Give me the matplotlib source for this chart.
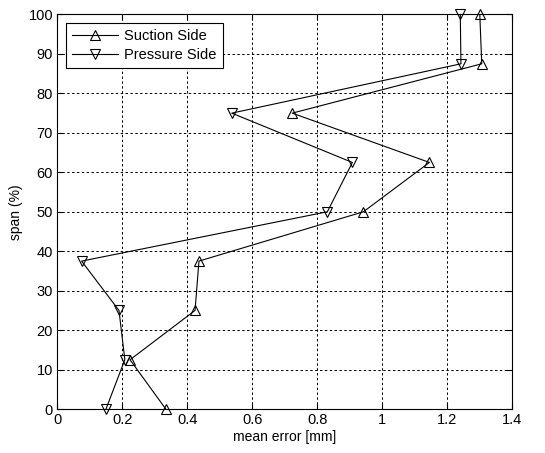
import matplotlib
matplotlib.use("Agg")
import matplotlib.pyplot as plt

plt.rcParams['font.family'] = ['Liberation Sans Narrow', 'Liberation Sans', 'DejaVu Sans']

# span positions (%)
span = [0, 12.5, 25, 37.5, 50, 62.5, 75, 87.5, 100]
# mean error [mm]
suction = [0.334, 0.224, 0.424, 0.436, 0.942, 1.145, 0.723, 1.306, 1.300]
pressure = [0.150, 0.208, 0.190, 0.075, 0.831, 0.908, 0.537, 1.242, 1.240]

xticks = [0, 0.2, 0.4, 0.6, 0.8, 1, 1.2, 1.4]
xticklabels = ['0', '0.2', '0.4', '0.6', '0.8', '1', '1.2', '1.4']
yticks = [0, 10, 20, 30, 40, 50, 60, 70, 80, 90, 100]

fig = plt.figure(figsize=(5.45, 4.53), dpi=100)
ax = fig.add_axes([0.105, 0.097, 0.835, 0.871])

style = dict(color='black', lw=0.8, markersize=7, markerfacecolor='none',
             markeredgecolor='black', markeredgewidth=0.8, clip_on=False, zorder=3)
ax.plot(suction, span, marker='^', label='Suction Side', **style)
ax.plot(pressure, span, marker='v', label='Pressure Side', **style)

ax.set_xlim(0, 1.4)
ax.set_ylim(0, 100)
ax.set_xticks(xticks)
ax.set_xticklabels(xticklabels)
ax.set_yticks(yticks)
ax.tick_params(direction='in', top=True, right=True, labelsize=10.5, length=4, width=0.8, pad=3)
ax.grid(True, color='black', linestyle=(0, (2.5, 2.5)), linewidth=0.7)
ax.set_axisbelow(True)
for s in ax.spines.values():
    s.set_linewidth(0.8)

ax.set_xlabel('mean error [mm]', fontsize=10, labelpad=2)
ax.set_ylabel('span (%)', fontsize=10, labelpad=4)

leg = ax.legend(loc='upper left', fontsize=10.5, fancybox=False, framealpha=1,
                edgecolor='black', handlelength=3.2, borderaxespad=0.6,
                borderpad=0.4, labelspacing=0.35, handletextpad=0.4)
leg.get_frame().set_linewidth(0.8)

fig.savefig('out.png', dpi=100, facecolor='white')
